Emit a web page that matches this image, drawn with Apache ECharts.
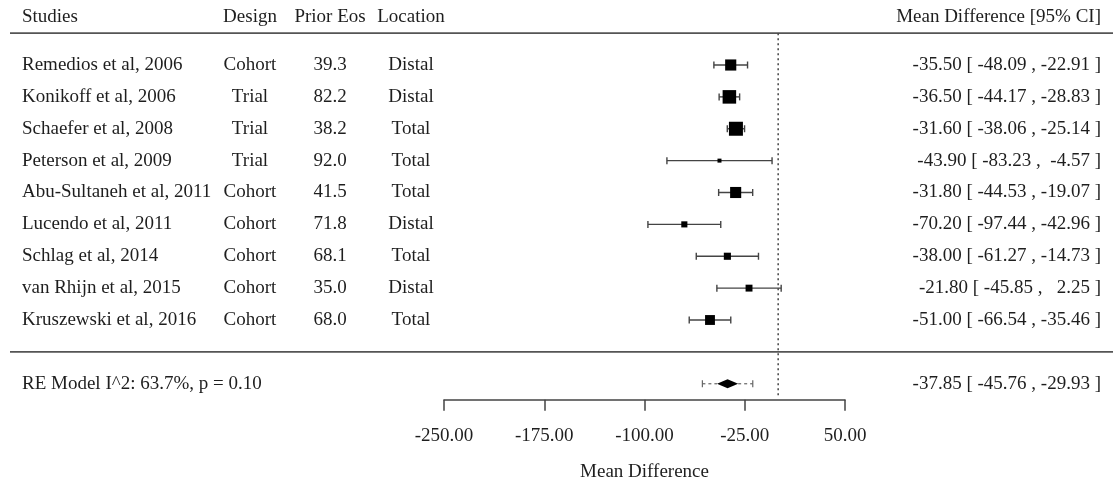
<!DOCTYPE html>
<html>
<head>
<meta charset="utf-8">
<script src="https://cdn.jsdelivr.net/npm/echarts@6/dist/echarts.min.js"></script>
<style>
html,body{margin:0;padding:0;background:#fff;}
#chart{width:1113px;height:482px;}
</style>
</head>
<body>
<div id="chart"></div>
<script>
// ---------- data ----------
const headers = ["Studies", "Design", "Prior Eos", "Location", "Mean Difference [95% CI]"];
const studies = ["Remedios et al, 2006", "Konikoff et al, 2006", "Schaefer et al, 2008", "Peterson et al, 2009",
  "Abu-Sultaneh et al, 2011", "Lucendo et al, 2011", "Schlag et al, 2014", "van Rhijn et al, 2015", "Kruszewski et al, 2016"];
const designs = ["Cohort", "Trial", "Trial", "Trial", "Cohort", "Cohort", "Cohort", "Cohort", "Cohort"];
const priorEos = ["39.3", "82.2", "38.2", "92.0", "41.5", "71.8", "68.1", "35.0", "68.0"];
const studyLocations = ["Distal", "Distal", "Total", "Total", "Total", "Distal", "Total", "Distal", "Total"];
const estimates = [-35.50, -36.50, -31.60, -43.90, -31.80, -70.20, -38.00, -21.80, -51.00];
const ciLower = [-48.09, -44.17, -38.06, -83.23, -44.53, -97.44, -61.27, -45.85, -66.54];
const ciUpper = [-22.91, -28.83, -25.14, -4.57, -19.07, -42.96, -14.73, 2.25, -35.46];
const weights = [13.9, 19.5, 20.7, 2.8, 13.8, 5.2, 6.6, 6.3, 11.3]; // estimated study weights (%)
const summaryLabel = "RE Model I^2: 63.7%, p = 0.10";
const summaryEstimate = -37.85;
const summaryLower = -45.76;
const summaryUpper = -29.93;
const predictionLower = -56.7;
const predictionUpper = -19.0;
const xTicks = [-250, -175, -100, -25, 50];
const xAxisTitle = "Mean Difference";
const refLine = 0;

// ---------- layout ----------
const FONT = '"Liberation Serif", "DejaVu Serif", serif';
const FS = 19;
const TXT = '#1e1e1e';
const k = studies.length;
const rowOf = i => k - i;           // studies at rows k..1
const summaryRow = -1;
const yMin = -1.5, yMax = 11;
const colX = {study: 22, design: 250, eos: 330, loc: 411, md: 1101};
const fmt = v => v.toFixed(2).padStart(6, ' ');

const sq = weights.map(w => Math.sqrt(w));
const sqMin = Math.min(...sq), sqMax = Math.max(...sq);
const sizes = sq.map(s => 4 + (s - sqMin) / (sqMax - sqMin) * 10);

// text rows (grid 1, pixel-like x scale)
const textData = [];
const hdrRow = k + 1.5;
textData.push([colX.study, hdrRow, headers[0], 'left']);
textData.push([colX.design, hdrRow, headers[1], 'center']);
textData.push([colX.eos, hdrRow, headers[2], 'center']);
textData.push([colX.loc, hdrRow, headers[3], 'center']);
textData.push([colX.md, hdrRow, headers[4], 'right']);
studies.forEach((s, i) => {
  const r = rowOf(i);
  textData.push([colX.study, r, s, 'left']);
  textData.push([colX.design, r, designs[i], 'center']);
  textData.push([colX.eos, r, priorEos[i], 'center']);
  textData.push([colX.loc, r, studyLocations[i], 'center']);
  textData.push([colX.md, r, `${fmt(estimates[i])} [ ${fmt(ciLower[i])} , ${fmt(ciUpper[i])} ]`, 'right']);
});
textData.push([colX.study, summaryRow, summaryLabel, 'left']);
textData.push([colX.md, summaryRow, `${fmt(summaryEstimate)} [ ${fmt(summaryLower)} , ${fmt(summaryUpper)} ]`, 'right']);

const studyData = estimates.map((e, i) => [e, rowOf(i), ciLower[i], ciUpper[i], sizes[i]]);

const chart = echarts.init(document.getElementById('chart'), null, {renderer: 'canvas'});
const gridTop = 1.25, gridH = (yMax - yMin) * 31.875;
const option = {
  animation: false,
  backgroundColor: '#fff',
  grid: [
    {left: 444, width: 401, top: gridTop, height: gridH, containLabel: false, outerBoundsMode: 'none'},
    {left: 0, right: 0, top: gridTop, height: gridH, containLabel: false, outerBoundsMode: 'none'}
  ],
  xAxis: [
    {
      gridIndex: 0, type: 'value', min: xTicks[0], max: xTicks[xTicks.length - 1], interval: 75,
      axisLine: {show: true, onZero: false, lineStyle: {color: '#444', width: 1.5}},
      axisTick: {show: true, length: 11, lineStyle: {color: '#444', width: 1.5}},
      axisLabel: {formatter: v => v.toFixed(2), fontFamily: FONT, fontSize: FS, color: TXT, margin: 27},
      splitLine: {show: false},
      name: xAxisTitle, nameLocation: 'middle', nameGap: 63,
      nameTextStyle: {fontFamily: FONT, fontSize: FS, color: TXT}
    },
    {gridIndex: 1, type: 'value', min: 0, max: 1113, show: false}
  ],
  yAxis: [
    {gridIndex: 0, type: 'value', min: yMin, max: yMax, show: false},
    {gridIndex: 1, type: 'value', min: yMin, max: yMax, show: false}
  ],
  series: [
    // separator lines
    {
      type: 'custom', xAxisIndex: 1, yAxisIndex: 1, silent: true,
      data: [[10, k + 1], [10, 0]],
      renderItem: (params, api) => {
        const p = api.coord([api.value(0), api.value(1)]);
        return {type: 'line', shape: {x1: p[0], y1: p[1], x2: 1113, y2: p[1]},
          style: {stroke: '#555', lineWidth: 1.6}};
      }
    },
    // reference line
    {
      type: 'custom', silent: true,
      data: [[refLine, k + 1, yMin + 0.12]],
      renderItem: (params, api) => {
        const a = api.coord([api.value(0), api.value(1)]);
        const b = api.coord([api.value(0), api.value(2)]);
        return {type: 'line', shape: {x1: a[0], y1: a[1], x2: b[0], y2: b[1]},
          style: {stroke: '#444', lineWidth: 1.5, lineDash: [2, 3]}};
      }
    },
    // study CIs and squares
    {
      type: 'custom', silent: true, data: studyData,
      renderItem: (params, api) => {
        const y = api.value(1);
        const c = api.coord([api.value(0), y]);
        const l = api.coord([api.value(2), y]);
        const u = api.coord([api.value(3), y]);
        const s = api.value(4);
        const ch = 3.5;
        const ls = {stroke: '#444', lineWidth: 1.4};
        return {type: 'group', children: [
          {type: 'line', shape: {x1: l[0], y1: c[1], x2: u[0], y2: c[1]}, style: ls},
          {type: 'line', shape: {x1: l[0], y1: c[1] - ch, x2: l[0], y2: c[1] + ch}, style: ls},
          {type: 'line', shape: {x1: u[0], y1: c[1] - ch, x2: u[0], y2: c[1] + ch}, style: ls},
          {type: 'rect', shape: {x: c[0] - s / 2, y: c[1] - s / 2, width: s, height: s}, style: {fill: '#000'}}
        ]};
      }
    },
    // summary diamond + prediction interval
    {
      type: 'custom', silent: true,
      data: [[summaryEstimate, summaryRow, summaryLower, summaryUpper, predictionLower, predictionUpper]],
      renderItem: (params, api) => {
        const y = api.value(1);
        const c = api.coord([api.value(0), y]);
        const l = api.coord([api.value(2), y]);
        const u = api.coord([api.value(3), y]);
        const pl = api.coord([api.value(4), y]);
        const pu = api.coord([api.value(5), y]);
        const h = 4.5, ch = 3.5;
        const ds = {stroke: '#666', lineWidth: 1.2, lineDash: [3, 3]};
        const cs = {stroke: '#666', lineWidth: 1.2};
        return {type: 'group', children: [
          {type: 'line', shape: {x1: pl[0], y1: c[1], x2: l[0], y2: c[1]}, style: ds},
          {type: 'line', shape: {x1: u[0], y1: c[1], x2: pu[0], y2: c[1]}, style: ds},
          {type: 'line', shape: {x1: pl[0], y1: c[1] - ch, x2: pl[0], y2: c[1] + ch}, style: cs},
          {type: 'line', shape: {x1: pu[0], y1: c[1] - ch, x2: pu[0], y2: c[1] + ch}, style: cs},
          {type: 'polygon', shape: {points: [[l[0], c[1]], [c[0], c[1] - h], [u[0], c[1]], [c[0], c[1] + h]]},
            style: {fill: '#000'}}
        ]};
      }
    },
    // table text
    {
      type: 'custom', xAxisIndex: 1, yAxisIndex: 1, silent: true, data: textData,
      renderItem: (params, api) => {
        const p = api.coord([api.value(0), api.value(1)]);
        const d = textData[params.dataIndex];
        return {type: 'text', x: p[0], y: p[1],
          style: {text: d[2], align: d[3], verticalAlign: 'middle', fill: TXT,
            font: `${FS}px ${FONT}`}};
      }
    }
  ]
};
chart.setOption(option);
</script>
</body>
</html>
